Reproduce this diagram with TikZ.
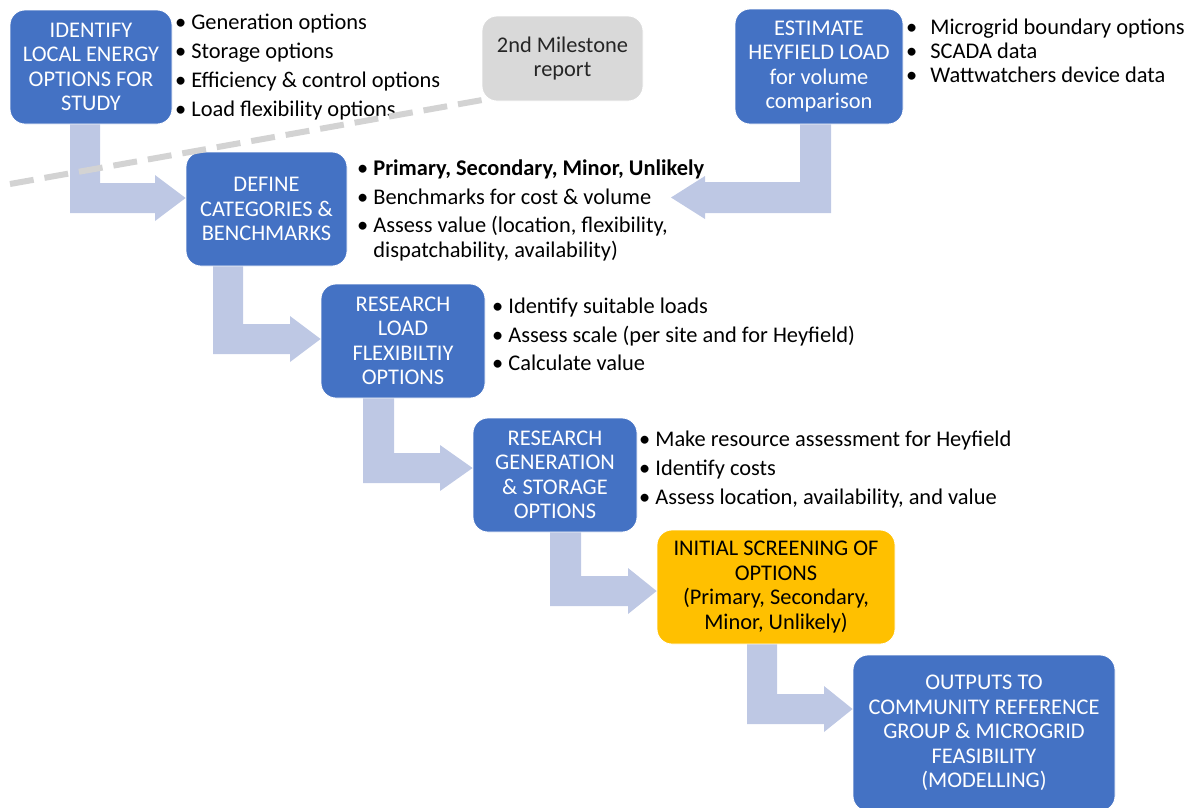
\documentclass[tikz,border=0pt]{standalone}
\usepackage{fontspec}
\setmainfont{Carlito}
\usetikzlibrary{calc}
\definecolor{boxblue}{HTML}{4472C4}
\definecolor{flowc}{RGB}{190,200,228}
\definecolor{msgray}{HTML}{D9D9D9}
\definecolor{dashgray}{HTML}{D3D3D3}
\definecolor{amber}{HTML}{FFC000}
\definecolor{darktext}{HTML}{262626}
% elbow arrow: from node #1 (south), to node #2 (west); stem x #3..#4; bar centre y #5; head base x #6
\newcommand\elbowR[6]{%
  \fill[flow] (#3,0 |- #1.south) -- (#4,0 |- #1.south) -- (#4,#5-15) -- (#6,#5-15) -- (#6,#5-23)
    -- (#2.west |- 0,#5) -- (#6,#5+23) -- (#6,#5+15) -- (#3,#5+15) -- cycle;}
\begin{document}
\begin{tikzpicture}[x=1pt,y=-1pt,font=\fontsize{22.4}{24.5}\selectfont,
  box/.style={rectangle, rounded corners=15pt, fill=boxblue, draw=white, line width=0.8pt,
    text=white, align=center, inner sep=0pt},
  msbox/.style={box, fill=msgray, draw=white, text=darktext},
  ambox/.style={box, fill=amber, text=black},
  list/.style={inner sep=0pt, text=black, anchor=base west},
  flow/.style={fill=flowc},
  dashline/.style={draw=dashgray, line width=6pt, dash pattern=on 24pt off 11pt}]
\useasboundingbox (0,0) rectangle (1194,807);

% boxes
\node[box, minimum width=162pt, minimum height=114pt] (id) at (91,67)
  {IDENTIFY\\LOCAL ENERGY\\OPTIONS FOR\\STUDY};
\node[msbox, minimum width=161pt, minimum height=85pt] (ms) at (562.5,58.5)
  {2nd Milestone\\report};
\node[box, minimum width=168pt, minimum height=115pt] (est) at (819,66.5)
  {ESTIMATE\\HEYFIELD LOAD\\for volume\\comparison};
\node[box, minimum width=161pt, minimum height=114pt] (def) at (266.5,209)
  {DEFINE\\CATEGORIES \&\\BENCHMARKS};
\node[box, minimum width=164pt, minimum height=114pt] (load) at (403,341)
  {RESEARCH\\LOAD\\FLEXIBILTIY\\OPTIONS};
\node[box, minimum width=164pt, minimum height=114pt] (gen) at (555,475)
  {RESEARCH\\GENERATION\\\& STORAGE\\OPTIONS};
\node[ambox, minimum width=238pt, minimum height=114pt] (init) at (776,587)
  {INITIAL SCREENING OF\\OPTIONS\\(Primary, Secondary,\\Minor, Unlikely)};
\node[box, minimum width=262pt, minimum height=156pt] (out) at (984,733)
  {OUTPUTS TO\\COMMUNITY REFERENCE\\GROUP \& MICROGRID\\FEASIBILITY\\(MODELLING)};

% bullet lists
\node[list] (idl) at (175,29.5) {\begin{tabular}[t]{@{}l@{\hspace{5pt}}l@{}}
  •& Generation options\\[4.5pt]
  •& Storage options\\[4.5pt]
  •& Efficiency \& control options\\[4.5pt]
  •& Load flexibility options
\end{tabular}};
\node[list] (defl) at (357,175.5) {\begin{tabular}[t]{@{}l@{\hspace{5pt}}l@{}}
  •& \textbf{Primary, Secondary, Minor, Unlikely}\\[4pt]
  •& Benchmarks for cost \& volume\\[4pt]
  •& Assess value (location, flexibility,\\[0.5pt]
   & dispatchability, availability)
\end{tabular}};
\node[list] (loadl) at (492,313.5) {\begin{tabular}[t]{@{}l@{\hspace{5pt}}l@{}}
  •& Identify suitable loads\\[4pt]
  •& Assess scale (per site and for Heyfield)\\[4pt]
  •& Calculate value
\end{tabular}};
\node[list] (genl) at (639,446.5) {\begin{tabular}[t]{@{}l@{\hspace{5pt}}l@{}}
  •& Make resource assessment for Heyfield\\[4.5pt]
  •& Identify costs\\[4.5pt]
  •& Assess location, availability, and value
\end{tabular}};
\node[list] (estl) at (906,34.5) {\begin{tabular}[t]{@{}l@{\hspace{13pt}}l@{}}
  •& Microgrid boundary options\\[-0.5pt]
  •& SCADA data\\[-0.5pt]
  •& Wattwatchers device data
\end{tabular}};

% flow arrows
\elbowR{id}{def}{70}{100}{198}{155}
\elbowR{def}{load}{213}{243}{339}{290}
\elbowR{load}{gen}{363}{394}{468}{440}
\elbowR{gen}{init}{550}{581}{591}{628}
\elbowR{init}{out}{747}{777}{709}{824}
\coordinate (a6tip) at (671,197.5);
\fill[flow] (800,0 |- est.south) -- (831,0 |- est.south) -- (831,213) -- (705,213) -- (705,219)
  -- (a6tip) -- (705,176) -- (705,182) -- (800,182) -- cycle;

% dashed milestone line
\coordinate (dstart) at (10,184);
\draw[dashline] (dstart) -- ($(ms.south west)+(4,-2)$);
\end{tikzpicture}
\end{document}
